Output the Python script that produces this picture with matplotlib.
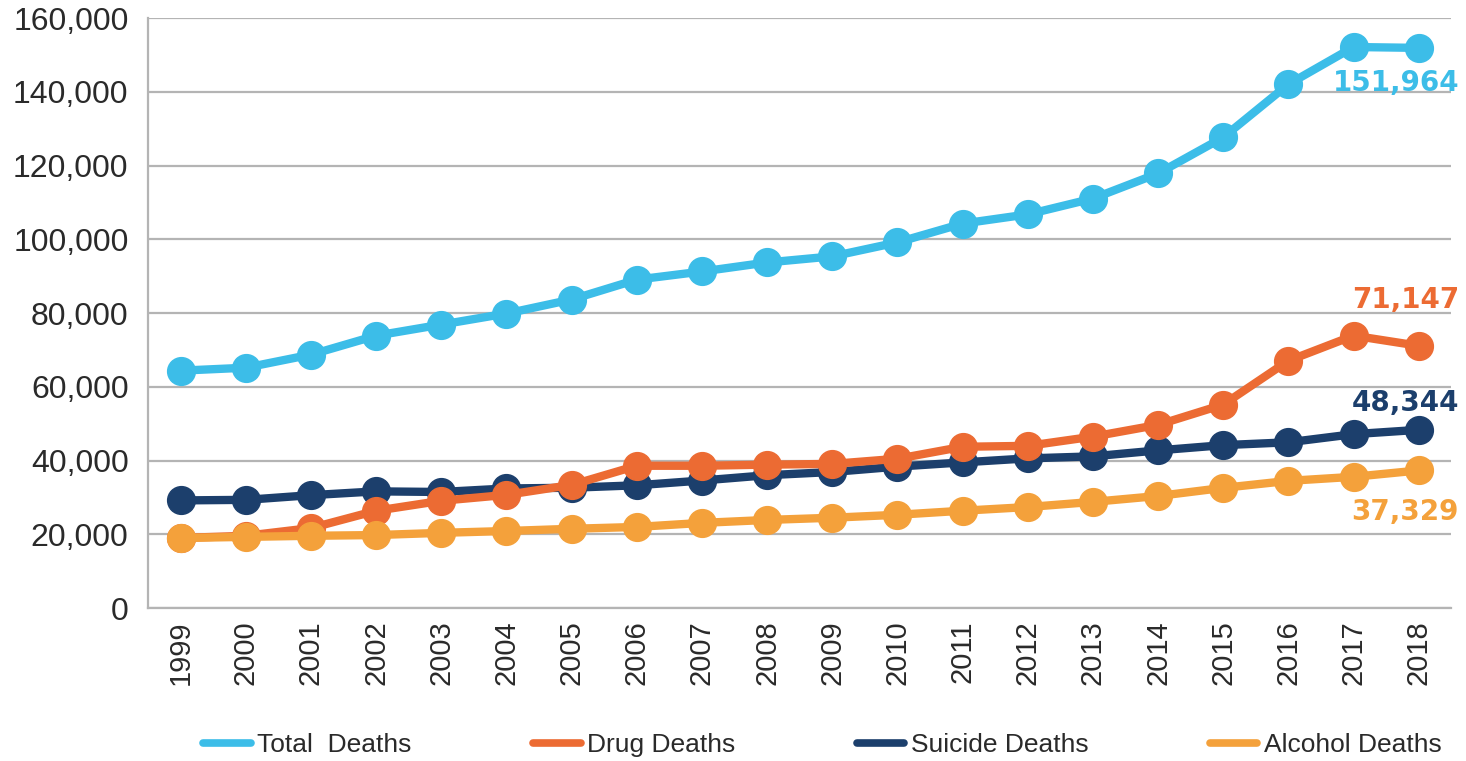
#!/usr/bin/env python3
import matplotlib
matplotlib.use("Agg")
import matplotlib.pyplot as plt
from matplotlib.lines import Line2D
from matplotlib.ticker import FuncFormatter

years = list(range(1999, 2019))

total   = [64400, 65200, 68750, 73900, 76900, 79900, 83700, 89100, 91300, 93750,
           95400, 99200, 104300, 106800, 111100, 117900, 127700, 142100, 152200, 151964]
drug    = [19000, 19600, 21700, 26400, 29100, 30700, 33400, 38600, 38600, 38900,
           39100, 40500, 43750, 44000, 46500, 49700, 55200, 67100, 73900, 71147]
suicide = [29199, 29350, 30622, 31655, 31484, 32439, 32637, 33300, 34598, 36035,
           36909, 38364, 39518, 40600, 41149, 42773, 44193, 44965, 47173, 48344]
alcohol = [19000, 19300, 19600, 19800, 20400, 20900, 21500, 22000, 23100, 23900,
           24500, 25300, 26400, 27400, 28800, 30400, 32600, 34500, 35600, 37329]

names  = ["Total  Deaths", "Drug Deaths", "Suicide Deaths", "Alcohol Deaths"]
colors = ["#3cbde8", "#ec6b33", "#1c3f6c", "#f4a13b"]

fig = plt.figure(figsize=(14.66, 7.61), dpi=100)
ax = fig.add_axes([0.101, 0.201, 0.889, 0.775])

series = [total, drug, suicide, alcohol]
zorders = [5, 4, 3, 4.5]
for vals, c, z in zip(series, colors, zorders):
    ax.plot(years, vals, color=c, lw=6, marker="o", ms=20, zorder=z,
            solid_capstyle="round")

ax.set_xlim(1998.5, 2018.5)
ax.set_ylim(0, 160000)
ax.set_yticks(range(0, 160001, 20000))
ax.yaxis.set_major_formatter(FuncFormatter(lambda v, p: f"{int(v):,}"))
ax.set_xticks(years)
ax.set_xticklabels([str(y) for y in years], rotation=90)

ax.grid(axis="y", color="#b4b4b4", lw=1.6)
ax.set_axisbelow(True)
for s in ["top", "right"]:
    ax.spines[s].set_visible(False)
ax.spines["left"].set_color("#b4b4b4")
ax.spines["bottom"].set_color("#b4b4b4")
ax.spines["left"].set_linewidth(1.6)
ax.spines["bottom"].set_linewidth(1.6)
ax.tick_params(axis="both", length=0)
ax.tick_params(axis="y", labelsize=23, colors="#2a2a2a", pad=14)
ax.tick_params(axis="x", labelsize=21, colors="#2a2a2a", pad=9)
for lab in ax.get_yticklabels() + ax.get_xticklabels():
    lab.set_family("Liberation Sans")

# end value labels
offsets = [(29, -25), (29, 33), (29, 19), (29, -30)]
for vals, c, (dx, dy) in zip(series, colors, offsets):
    ax.annotate(f"{vals[-1]:,}", xy=(years[-1], vals[-1]), xytext=(dx, dy),
                textcoords="offset points", ha="right", va="center",
                fontsize=20, fontweight="bold", color=c, zorder=6)

handles = [Line2D([0], [0], color=c, lw=5.5, solid_capstyle="round") for c in colors]
fig.legend(handles, names, loc="center", bbox_to_anchor=(0.561, 0.021), ncol=4,
           frameon=False, handlelength=1.8, handletextpad=0.25, columnspacing=4.6,
           prop={"family": "Liberation Sans", "size": 19}, labelcolor="#2a2a2a")

fig.savefig("out.png", dpi=100)
